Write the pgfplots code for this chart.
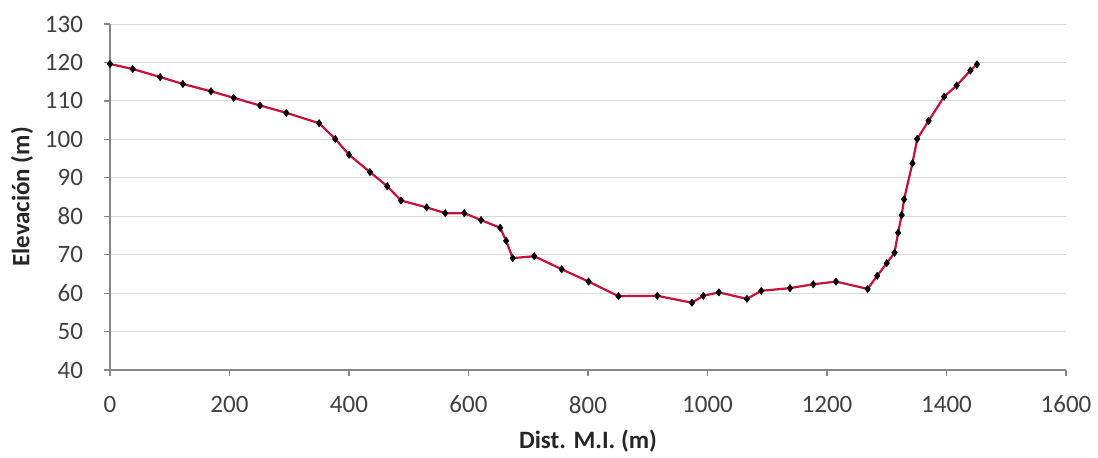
\documentclass[border=0pt]{standalone}
\usepackage{pgfplots}
\pgfplotsset{compat=1.18}
\usepackage{fontspec}
\setmainfont{Carlito}
\definecolor{linered}{RGB}{200,16,56}
\definecolor{gridgray}{RGB}{217,217,217}
\definecolor{axisgray}{RGB}{134,134,134}
\begin{document}
\begin{tikzpicture}
\useasboundingbox (-55pt,-43.5pt) rectangle (494pt,185pt);
\begin{axis}[
  at={(0,0)}, anchor=south west,
  scale only axis, width=478pt, height=173pt,
  xmin=0, xmax=1600, ymin=40, ymax=130,
  xtick={0,200,...,1600}, ytick={40,50,...,130},
  axis x line*=bottom, axis y line*=left,
  axis line style={axisgray, line width=0.6pt},
  tick style={axisgray, line width=0.6pt},
  tick align=outside, major tick length=3pt,
  ymajorgrids, grid style={gridgray, line width=0.5pt},
  /pgf/number format/assume math mode=true,
  /pgf/number format/1000 sep={},
  tick label style={font=\fontsize{12.5}{14}\selectfont, text=black!75},
  xticklabel style={yshift=-6.5pt},
  yticklabel style={xshift=-7pt},
  xlabel={\textbf{Dist. M.I. (m)}},
  ylabel={\textbf{Elevación (m)}},
  label style={font=\fontsize{12.5}{14}\selectfont, text=black!85},
  xlabel style={at={(axis description cs:0.5,-0.205)}, anchor=center},
  ylabel style={at={(axis description cs:-0.092,0.5)}, anchor=center},
  clip=false,
]
\addplot[linered, line width=1.1pt, mark=diamond*, mark size=1.8pt,
  mark options={black, fill=black, line width=0.3pt}] coordinates {
(0,119.6) (38,118.3) (84,116.2) (122,114.4) (169,112.5) (207,110.8)
(251,108.8) (295,106.9) (350,104.2) (377,100.1) (400,96.0) (435,91.5)
(464,87.8) (487,84.1) (530,82.3) (561,80.8) (593,80.8) (621,79.0)
(653,77.0) (663,73.6) (674,69.1) (710,69.6) (756,66.2) (801,63.0)
(851,59.2) (916,59.3) (974,57.5) (993,59.3) (1019,60.2) (1066,58.5)
(1090,60.6) (1138,61.3) (1177,62.3) (1215,63.0) (1268,61.1) (1284,64.5)
(1300,67.8) (1313,70.5) (1319,75.7) (1325,80.3) (1329,84.4) (1343,93.8)
(1351,100.1) (1370,104.8) (1396,111.1) (1417,114.0) (1440,117.9) (1451,119.5)
};
\end{axis}
\end{tikzpicture}
\end{document}
